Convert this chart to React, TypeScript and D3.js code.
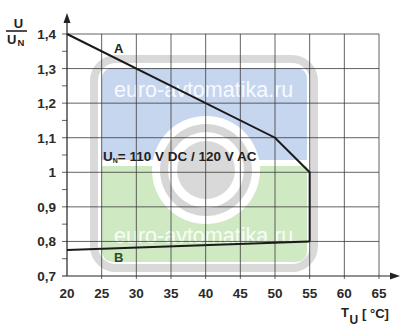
import React from "react";
import * as d3 from "d3";

const xTicks = [20, 25, 30, 35, 40, 45, 50, 55, 60, 65];
const yTicks = [0.7, 0.8, 0.9, 1.0, 1.1, 1.2, 1.3, 1.4];
const yMinor = [0.75, 0.85, 0.95, 1.05, 1.15, 1.25, 1.35];
const curveA = [
  { t: 20, u: 1.4 },
  { t: 50, u: 1.1 },
  { t: 55, u: 1.0 },
  { t: 55, u: 0.8 },
];
const curveB = [
  { t: 20, u: 0.775 },
  { t: 55, u: 0.8 },
];
const ratingText = "= 110 V DC / 120 V AC";
const watermark = "euro-avtomatika.ru";

const W = 408;
const H = 331;
const FONT = "'Liberation Sans', Arial, Helvetica, sans-serif";

export default function App() {
  const x = d3.scaleLinear().domain([20, 65]).range([67, 379]);
  const y = d3.scaleLinear().domain([0.7, 1.4]).range([276, 34]);
  const line = d3
    .line<{ t: number; u: number }>()
    .x((d) => x(d.t))
    .y((d) => y(d.u));
  const fmt = (v: number) => (Number.isInteger(v) ? String(v) : v.toFixed(1).replace(".", ","));
  const gridColor = "#3a3a3a";

  return (
    <svg
      width={W}
      height={H}
      style={{ position: "absolute", left: 0, top: 0, background: "#fff" }}
      fontFamily={FONT}
    >
      {/* watermark */}
      <g>
        <rect x={94} y={59} width={220} height={209} rx={22} fill="none" stroke="#d9d9d9" strokeWidth={8} />
        <path d="M102,160 V80 Q102,68 114,68 H295 Q307,68 307,80 V160 Z" fill="#c7d6ef" />
        <path d="M102,166 H307 V250 Q307,262 295,262 H114 Q102,262 102,250 Z" fill="#cfe9c3" />
        <circle cx={206} cy={170} r={54} fill="#fff" />
        <circle cx={206} cy={170} r={46} fill="#d6d6d6" />
        <circle cx={206} cy={170} r={38} fill="#fff" />
        <circle cx={206} cy={170} r={29} fill="#d9d9d9" />
        <text x={114} y={97} fontSize={21.5} fill="#fff" fillOpacity={0.9}>{watermark}</text>
        <text x={114} y={243} fontSize={21.5} fill="#fff" fillOpacity={0.9}>{watermark}</text>
      </g>

      {/* grid */}
      <g stroke={gridColor} strokeWidth={0.8}>
        {xTicks.slice(1).map((t) => (
          <line key={"gx" + t} x1={x(t)} x2={x(t)} y1={y(1.4)} y2={y(0.7) + 3} />
        ))}
        {yTicks.slice(1).map((v) => (
          <line key={"gy" + v} x1={x(20) - 5} x2={x(65)} y1={y(v)} y2={y(v)} />
        ))}
        {yMinor.map((v) => (
          <line key={"gm" + v} x1={x(20) - 5} x2={x(20)} y1={y(v)} y2={y(v)} />
        ))}
      </g>

      {/* axes */}
      <g stroke="#222" strokeWidth={1.2}>
        <line x1={x(20)} x2={x(20)} y1={y(0.7)} y2={20} />
        <line x1={x(20) - 5} x2={392} y1={y(0.7)} y2={y(0.7)} />
      </g>
      <path d={`M${x(20)},13 L${x(20) + 3.5},23 L${x(20) - 3.5},23 Z`} fill="#222" />
      <path d={`M400,${y(0.7)} L390,${y(0.7) - 3.5} L390,${y(0.7) + 3.5} Z`} fill="#222" />

      {/* curves */}
      <path d={line(curveA) || ""} fill="none" stroke="#1a1a1a" strokeWidth={2} strokeLinejoin="miter" />
      <path d={line(curveB) || ""} fill="none" stroke="#1a1a1a" strokeWidth={2} />

      {/* tick labels */}
      <g fontSize={13.5} fontWeight="bold" fill="#2a2a2a">
        {yTicks.map((v) => (
          <text key={"ly" + v} x={56} y={y(v) + 5} textAnchor="end">
            {fmt(v)}
          </text>
        ))}
        {xTicks.map((t) => (
          <text key={"lx" + t} x={x(t)} y={298} textAnchor="middle">
            {t}
          </text>
        ))}
      </g>

      {/* curve labels */}
      <g fontSize={13} fontWeight="bold">
        <text x={114} y={53} fill="#222">A</text>
        <text x={114} y={262} fill="#2e4a22">B</text>
      </g>

      {/* rating */}
      <text x={103} y={161} fontSize={13.5} fontWeight="bold" fill="#222">
        U<tspan fontSize={7} dy={2}>N</tspan>
        <tspan dy={-2}>{ratingText}</tspan>
      </text>

      {/* y title */}
      <g fontWeight="bold" fill="#222">
        <text x={18.5} y={28} fontSize={13} textAnchor="middle">U</text>
        <line x1={6} x2={27} y1={31} y2={31} stroke="#222" strokeWidth={1.6} />
        <text x={7} y={44} fontSize={13}>U</text>
        <text x={17.5} y={46} fontSize={9.5}>N</text>
      </g>

      {/* x title */}
      <g fontWeight="bold" fill="#222">
        <text x={341} y={317} fontSize={13}>T</text>
        <text x={349.5} y={324} fontSize={12}>U</text>
        <text x={362} y={318} fontSize={13}>[ °C]</text>
      </g>
    </svg>
  );
}
